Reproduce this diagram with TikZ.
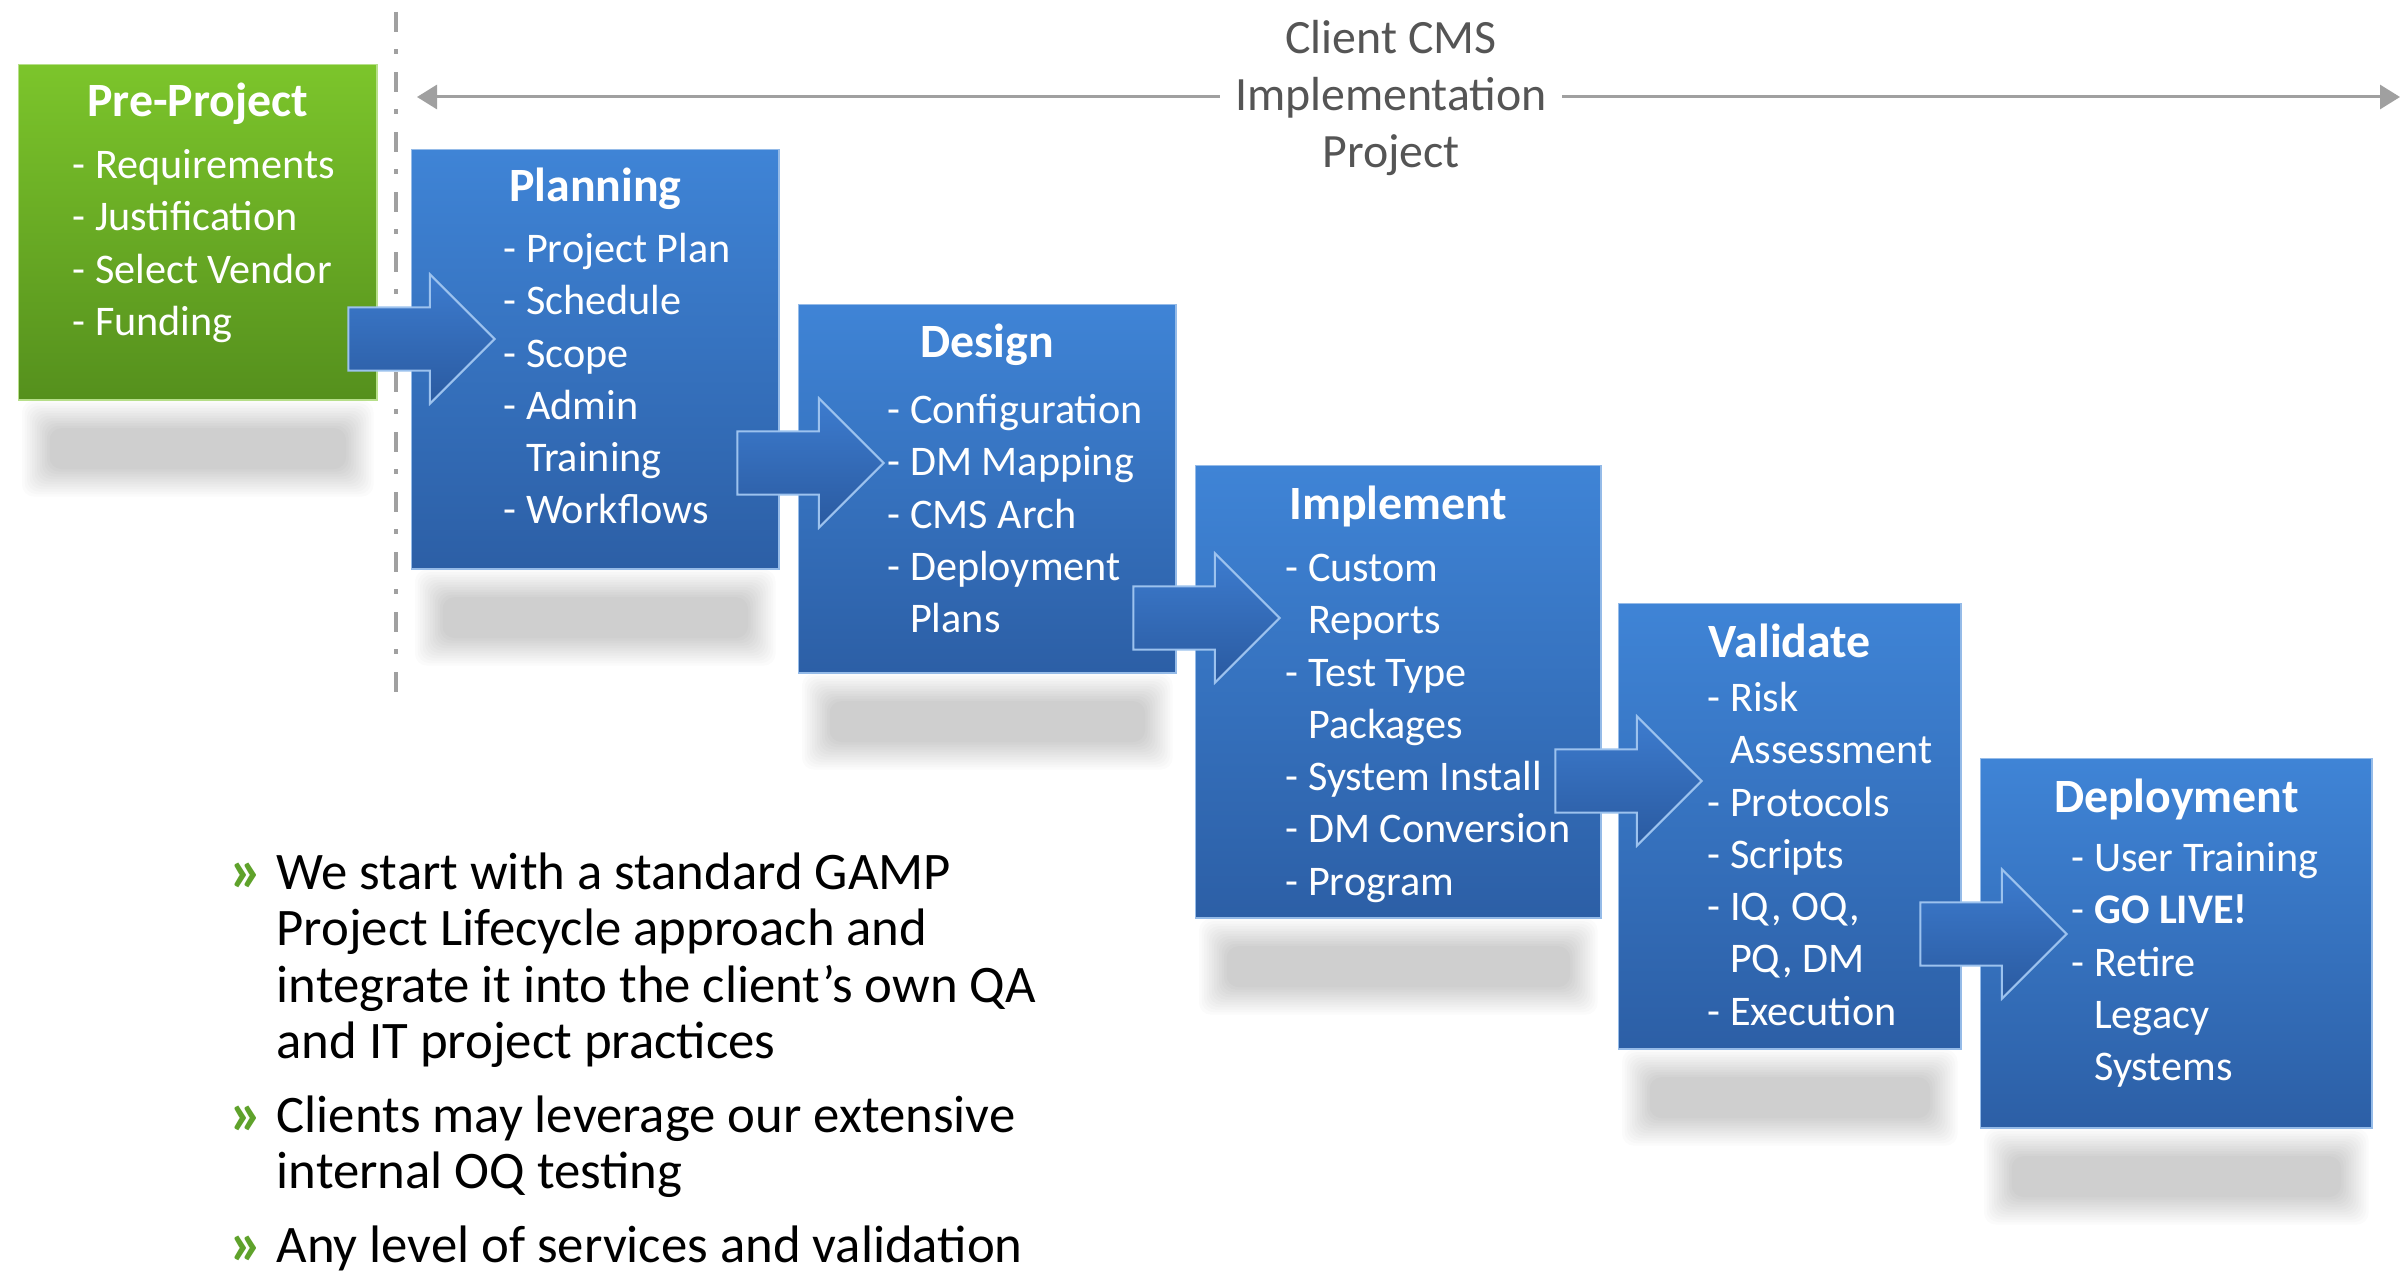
\documentclass[tikz,border=0pt]{standalone}
\usepackage{fontspec}
\setmainfont{Carlito}
\usepackage{xcolor}
\usetikzlibrary{positioning,calc,shapes.arrows,arrows.meta}

\definecolor{greentop}{HTML}{7CC52B}
\definecolor{greenbot}{HTML}{55901D}
\definecolor{bluetop}{HTML}{3F84D6}
\definecolor{bluebot}{HTML}{2C5FA6}
\definecolor{arrowtop}{HTML}{3D7CCF}
\definecolor{arrowbot}{HTML}{2A5AA0}
\definecolor{arrowedge}{HTML}{9CC2EE}
\definecolor{spangray}{HTML}{A0A0A0}
\definecolor{labelgray}{HTML}{555555}
\definecolor{bulletgreen}{HTML}{5FA22B}

\tikzset{
  phase/.style={anchor=north west, inner sep=0, top color=bluetop, bottom color=bluebot, draw=bluetop!55!white, line width=0.4pt},
  prephase/.style={phase, top color=greentop, bottom color=greenbot, draw=greentop!55!white},
  phasetitle/.style={anchor=base, inner sep=0, text=white, font=\fontsize{13.6}{16}\selectfont\bfseries},
  phaseitems/.style={anchor=north west, inner sep=0, align=left, text=white, font=\fontsize{12}{14.85}\selectfont},
  fatarrow/.style={single arrow, anchor=tip, inner xsep=0, inner ysep=0.305cm, minimum height=1.46cm, single arrow head extend=0.33cm, top color=arrowtop, bottom color=arrowbot, draw=arrowedge, line width=0.6pt},
  bullettext/.style={anchor=north west, inner sep=0, align=left, font=\fontsize{15}{16}\selectfont},
  bulletmark/.style={anchor=base west, inner sep=0, text=bulletgreen, font=\fontsize{18}{18}\selectfont\bfseries},
}

\begin{document}
\begin{tikzpicture}[x=0.01cm, y=-0.01cm]
\useasboundingbox[fill=white] (0,0) rectangle (2405,1285);

% project span and gate
\coordinate (gateTop) at (396,12);
\coordinate (gateBot) at (396,702);
\draw[spangray, line width=0.033cm, dash pattern=on 0.2cm off 0.17cm on 0.045cm off 0.185cm] (gateTop) -- (gateBot);
\coordinate (spanL) at (417,97);
\coordinate (spanR) at (2400,97);
\draw[spangray, line width=0.03cm, {Triangle[length=0.2cm,width=0.24cm]}-{Triangle[length=0.2cm,width=0.24cm]}] (spanL) -- (spanR);
\node[fill=white, inner xsep=0.15cm, inner ysep=0, anchor=north, align=center, text=labelgray, font=\fontsize{13.6}{16.2}\selectfont] (span) at (1391,13) {\strut Client CMS\\Implementation\\Project};

% phases
\node[prephase, minimum width=3.58cm, minimum height=3.35cm] (pre) at (18,64) {};
\node[phase, minimum width=3.67cm, minimum height=4.19cm] (plan) at (411,149) {};
\node[phase, minimum width=3.77cm, minimum height=3.68cm] (design) at (798,304) {};
\node[phase, minimum width=4.05cm, minimum height=4.52cm] (impl) at (1195,465) {};
\node[phase, minimum width=3.42cm, minimum height=4.45cm] (valid) at (1618,603) {};
\node[phase, minimum width=3.91cm, minimum height=3.69cm] (deploy) at (1980,758) {};

% soft shadows under the phases
\foreach \b in {pre,plan,design,impl,valid,deploy}
  \foreach \k in {0,...,11}
    \fill[black, opacity=0.017, rounded corners=0.12cm]
      ($(\b.south west)+(4+2.5*\k,0+2.5*\k)$) rectangle ($(\b.south east)+(-4-2.5*\k,96-2.5*\k)$);

% step arrows
\node[fatarrow] (pre2plan) at (496,339) {};
\node[fatarrow] (plan2design) at (885,463) {};
\node[fatarrow] (design2impl) at (1281,618) {};
\node[fatarrow] (impl2valid) at (1703,781) {};
\node[fatarrow] (valid2deploy) at (2068,934) {};

% titles
\node[phasetitle] (pre-t) at ($(pre.north)+(0,53)$) {Pre-Project};
\node[phasetitle] (plan-t) at ($(plan.north)+(0,53)$) {Planning};
\node[phasetitle] (design-t) at ($(design.north)+(0,53)$) {Design};
\node[phasetitle] (impl-t) at ($(impl.north)+(0,54)$) {Implement};
\node[phasetitle] (valid-t) at ($(valid.north)+(0,54)$) {Validate};
\node[phasetitle] (deploy-t) at ($(deploy.north)+(0,54)$) {Deployment};

% tasks
\node[phaseitems] (pre-i) at (72,141.5) {\strut- Requirements\\- Justification\\- Select Vendor\\- Funding};
\node[phaseitems] (plan-i) at (503,225.5) {\strut- Project Plan\\- Schedule\\- Scope\\- Admin\\\phantom{- }Training\\- Workflows};
\node[phaseitems] (design-i) at (887,386.5) {\strut- Configuration\\- DM Mapping\\- CMS Arch\\- Deployment\\\phantom{- }Plans};
\node[phaseitems] (impl-i) at (1285,544.5) {\strut- Custom\\\phantom{- }Reports\\- Test Type\\\phantom{- }Packages\\- System Install\\- DM Conversion\\- Program};
\node[phaseitems] (valid-i) at (1707,674.5) {\strut- Risk\\\phantom{- }Assessment\\- Protocols\\- Scripts\\- IQ, OQ,\\\phantom{- }PQ, DM\\- Execution};
\node[phaseitems] (deploy-i) at (2071,834.5) {\strut- User Training\\- \textbf{GO LIVE!}\\- Retire\\\phantom{- }Legacy\\\phantom{- }Systems};

% bullets
\node[bulletmark] (m1) at (229,891) {»};
\node[bullettext] (b1) at (276,849.6) {\strut We start with a standard GAMP\\Project Lifecycle approach and\\integrate it into the client’s own QA\\and IT project practices};
\node[bulletmark] (m2) at (229,1134) {»};
\node[bullettext] (b2) at (276,1092.6) {\strut Clients may leverage our extensive\\internal OQ testing};
\node[bulletmark] (m3) at (229,1264) {»};
\node[bullettext] (b3) at (276,1222.6) {\strut Any level of services and validation};
\end{tikzpicture}
\end{document}
